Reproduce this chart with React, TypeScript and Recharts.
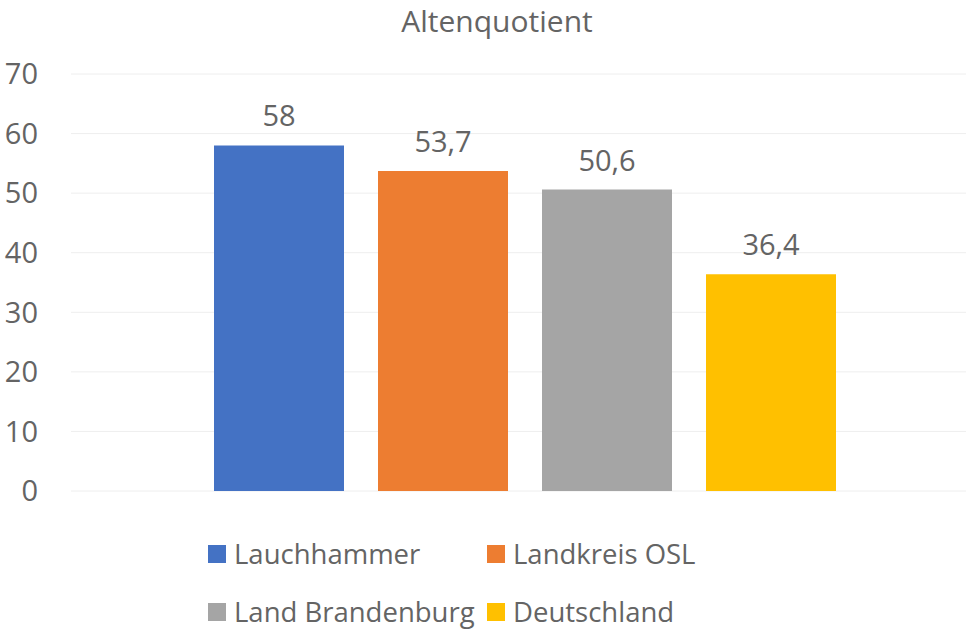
import React from "react";
import { BarChart, Bar, XAxis, YAxis, CartesianGrid, LabelList } from "recharts";

const categories = ["Altenquotient"];
const seriesNames = ["Lauchhammer", "Landkreis OSL", "Land Brandenburg", "Deutschland"];
const seriesValues = [58, 53.7, 50.6, 36.4];
const seriesColors = ["#4472C4", "#ED7D31", "#A5A5A5", "#FFC000"];
const yTicks = [0, 10, 20, 30, 40, 50, 60, 70];

const data = categories.map((c) => {
  const row: Record<string, string | number> = { name: c };
  seriesNames.forEach((s, i) => {
    row[s] = seriesValues[i];
  });
  return row;
});

const FONT = "'Open Sans', sans-serif";
const TEXT = "#646464";
const FS = 29;

const fmt = (v: any) => String(v).replace(".", ",");

export default function App() {
  return (
    <div
      style={{
        position: "absolute",
        left: 0,
        top: 0,
        width: 966,
        height: 634,
        overflow: "hidden",
        background: "#fff",
        fontFamily: FONT,
      }}
    >
      <div
        style={{
          position: "absolute",
          left: 347,
          width: 300,
          top: 0,
          textAlign: "center",
          fontSize: 30,
          color: TEXT,
          lineHeight: "normal",
          whiteSpace: "nowrap",
        }}
      >
        {categories[0]}
      </div>
      <div style={{ position: "absolute", left: 0, top: 0 }}>
        <BarChart
          width={978}
          height={634}
          data={data}
          margin={{ top: 74, right: 0, bottom: 143, left: 0 }}
          barSize={130}
          barGap={34}
        >
          <CartesianGrid vertical={false} stroke="#eeeeee" strokeWidth={1} />
          <XAxis dataKey="name" hide />
          <YAxis
            width={71}
            domain={[0, 70]}
            ticks={yTicks}
            axisLine={false}
            tickLine={false}
            tickSize={0}
            tickMargin={33}
            interval={0}
            tick={{ fill: TEXT, fontSize: FS, fontFamily: FONT }}
          />
          {seriesNames.map((s, i) => (
            <Bar key={s} dataKey={s} fill={seriesColors[i]} isAnimationActive={false}>
              <LabelList
                dataKey={s}
                position="top"
                offset={19}
                formatter={fmt}
                style={{ fill: TEXT, fontSize: FS, fontFamily: FONT }}
              />
            </Bar>
          ))}
        </BarChart>
      </div>
      {seriesNames.map((s, i) => {
        const col = i % 2;
        const row = Math.floor(i / 2);
        const left = col === 0 ? 208 : 487;
        const top = row === 0 ? 545 : 603;
        return (
          <div
            key={s}
            style={{
              position: "absolute",
              left,
              top: top - 9,
              height: 36,
              display: "flex",
              alignItems: "center",
              whiteSpace: "nowrap",
            }}
          >
            <div style={{ width: 18, height: 18, background: seriesColors[i], marginRight: 8 }} />
            <span style={{ fontSize: 27.5, color: TEXT, lineHeight: "36px" }}>{s}</span>
          </div>
        );
      })}
    </div>
  );
}
